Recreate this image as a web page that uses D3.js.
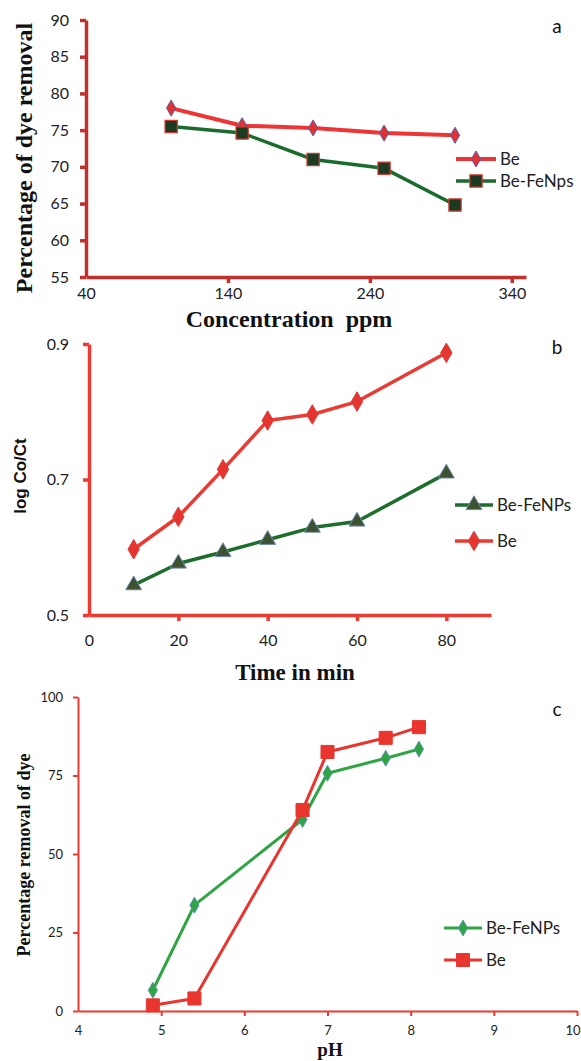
<!DOCTYPE html>
<html>
<head>
<meta charset="utf-8">
<script src="https://cdn.jsdelivr.net/npm/d3@7"></script>
<style>
  body { margin: 0; background: #fff; }
  svg { display: block; }
</style>
</head>
<body>
<div id="graph"></div>
<script>
// ---- panel a : concentration ----
const concPpm = [100, 150, 200, 250, 300];
const concBe = [78.0, 75.6, 75.3, 74.6, 74.3];
const concBeFe = [75.5, 74.6, 71.0, 69.8, 64.8];
const concXTicks = [40, 140, 240, 340];
const concYTicks = [55, 60, 65, 70, 75, 80, 85, 90];

// ---- panel b : time ----
const timeMin = [10, 20, 30, 40, 50, 60, 80];
const timeBeFe = [0.544, 0.576, 0.593, 0.611, 0.629, 0.638, 0.709];
const timeBe = [0.597, 0.645, 0.715, 0.787, 0.796, 0.815, 0.887];
const timeXTicks = [0, 20, 40, 60, 80];
const timeYTicks = [0.5, 0.7, 0.9];

// ---- panel c : pH ----
const phVals = [4.9, 5.4, 6.7, 7.0, 7.7, 8.1];
const phBeFe = [6.6, 33.7, 61.0, 75.7, 80.5, 83.4];
const phBe = [1.8, 4.0, 64.0, 82.5, 87.0, 90.4];
const phXTicks = [4, 5, 6, 7, 8, 9, 10];
const phYTicks = [0, 25, 50, 75, 100];

const W = 581, H = 1061;
const sans = "Lato, 'Open Sans', sans-serif";
const serif = "'Liberation Serif', 'DejaVu Serif', serif";

let svg = d3.select("#graph")
    .append("svg")
    .attr("width", W)
    .attr("height", H);

function marker(g, type, size, x, y, fill, stroke, sw) {
    g.append("path")
        .attr("d", d3.symbol().type(type).size(size)())
        .attr("transform", `translate(${x},${y})`)
        .attr("fill", fill)
        .attr("stroke", stroke)
        .attr("stroke-width", sw);
}

function drawPanel(p) {
    let g = svg.append("g");
    let x = d3.scaleLinear().domain(p.xDomain).range([p.left, p.right]);
    let y = d3.scaleLinear().domain(p.yDomain).range([p.bottom, p.top]);

    // axes
    let xa = g.append("g")
        .attr("transform", `translate(0,${p.bottom})`)
        .call(d3.axisBottom(x).tickValues(p.xTicks).tickSize(p.tick).tickSizeOuter(0)
            .tickPadding(p.xPad).tickFormat(d3.format("d")));
    let ya = g.append("g")
        .attr("transform", `translate(${p.left},0)`)
        .call(d3.axisLeft(y).tickValues(p.yTicks).tickSize(p.tick).tickSizeOuter(0)
            .tickPadding(p.yPad).tickFormat(p.yFormat));
    [xa, ya].forEach(a => {
        a.select(".domain").attr("stroke", p.axisColor).attr("stroke-width", p.axisWidth);
        a.selectAll(".tick line").attr("stroke", p.axisColor).attr("stroke-width", p.axisWidth);
        a.selectAll(".tick text").attr("fill", "#222").style("font-family", sans).style("font-size", p.tickFont + "px");
    });
    // x ticks at the very start coincide with the y axis
    xa.selectAll(".tick").filter(d => d === p.xDomain[0]).select("line").remove();
    // keep a label at the right page edge inside the picture
    xa.selectAll(".tick text").filter(d => x(d) > W - 8).attr("text-anchor", "end").attr("x", W - x(p.xDomain[1]) - 1);

    // series
    p.series.forEach(s => {
        let pts = p.xs.map((v, i) => [x(v), y(s.values[i])]);
        g.append("path")
            .attr("d", d3.line()(pts))
            .attr("fill", "none")
            .attr("stroke", s.color)
            .attr("stroke-width", s.width)
            .attr("stroke-linejoin", "round");
        pts.forEach(pt => marker(g, s.symbol, s.size, pt[0], pt[1], s.fill, s.stroke, s.sw));
    });

    // legend
    p.series.forEach((s, i) => {
        let ly = p.legendY + i * p.legendGap;
        g.append("line")
            .attr("x1", p.legendX).attr("x2", p.legendX + p.legendLen)
            .attr("y1", ly).attr("y2", ly)
            .attr("stroke", s.color).attr("stroke-width", s.width);
        marker(g, s.symbol, s.size, p.legendX + p.legendLen / 2, ly, s.fill, s.stroke, s.sw);
        g.append("text")
            .attr("x", p.legendX + p.legendLen + 4).attr("y", ly)
            .attr("dy", "0.35em")
            .style("font-family", sans).style("font-size", p.legendFont + "px")
            .attr("fill", "#222")
            .text(s.name);
    });

    // axis titles
    g.append("text")
        .attr("x", p.xTitleX).attr("y", p.xTitleY)
        .attr("text-anchor", "middle")
        .style("font-family", p.xTitleFamily).style("font-weight", "bold")
        .style("font-size", p.xTitleFont + "px")
        .style("white-space", "pre")
        .attr("fill", "#111")
        .text(p.xTitle);
    g.append("text")
        .attr("transform", `translate(${p.yTitleX},${p.yTitleY}) rotate(-90)`)
        .attr("text-anchor", "middle")
        .style("font-family", p.yTitleFamily).style("font-weight", "bold")
        .style("font-size", p.yTitleFont + "px")
        .attr("fill", "#111")
        .text(p.yTitle);

    // panel letter
    g.append("text")
        .attr("x", 557).attr("y", p.letterY)
        .attr("text-anchor", "middle")
        .style("font-family", sans).style("font-size", "19px")
        .attr("fill", "#111")
        .text(p.letter);
}

drawPanel({
    left: 86, right: 526, top: 20, bottom: 277,
    xDomain: [40, 350], yDomain: [55, 90],
    xTicks: concXTicks, yTicks: concYTicks, yFormat: d3.format("d"),
    tick: 6, xPad: 5, yPad: 11, tickFont: 16,
    axisColor: "#c0302c", axisWidth: 3.5,
    xs: concPpm,
    series: [
        {name: "Be", values: concBe, color: "#ee3535", width: 4, symbol: d3.symbolDiamond, size: 75, fill: "#e03232", stroke: "#5b5ea8", sw: 1},
        {name: "Be-FeNps", values: concBeFe, color: "#1b6a2e", width: 3.5, symbol: d3.symbolSquare, size: 150, fill: "#1c3a22", stroke: "#d23a30", sw: 1.2}
    ],
    legendX: 456, legendLen: 40, legendY: 159, legendGap: 22, legendFont: 17,
    xTitle: "Concentration  ppm", xTitleX: 289, xTitleY: 327, xTitleFont: 24, xTitleFamily: serif,
    yTitle: "Percentage of dye removal", yTitleX: 32, yTitleY: 158, yTitleFont: 24, yTitleFamily: serif,
    letter: "a", letterY: 33
});

drawPanel({
    left: 89, right: 491, top: 344, bottom: 615,
    xDomain: [0, 90], yDomain: [0.5, 0.9],
    xTicks: timeXTicks, yTicks: timeYTicks, yFormat: d3.format(".1f"),
    tick: 6, xPad: 14, yPad: 14, tickFont: 16,
    axisColor: "#ea3a31", axisWidth: 3.5,
    xs: timeMin,
    series: [
        {name: "Be-FeNPs", values: timeBeFe, color: "#1d6e2c", width: 3.5, symbol: d3.symbolTriangle, size: 110, fill: "#3c5230", stroke: "#7088b0", sw: 1},
        {name: "Be", values: timeBe, color: "#ea3a31", width: 3.5, symbol: d3.symbolDiamond, size: 110, fill: "#e43631", stroke: "#e43631", sw: 1}
    ],
    legendX: 455, legendLen: 38, legendY: 505, legendGap: 36, legendFont: 17,
    xTitle: "Time in min", xTitleX: 295, xTitleY: 680, xTitleFont: 23, xTitleFamily: serif,
    yTitle: "log Co/Ct", yTitleX: 26, yTitleY: 476, yTitleFont: 17, yTitleFamily: "'Liberation Sans', Arial, sans-serif",
    letter: "b", letterY: 354
});

drawPanel({
    left: 78, right: 577, top: 697, bottom: 1011,
    xDomain: [4, 10], yDomain: [0, 100],
    xTicks: phXTicks, yTicks: phYTicks, yFormat: d3.format("d"),
    tick: 5, xPad: 10, yPad: 10, tickFont: 13,
    axisColor: "#ea3a31", axisWidth: 2,
    xs: phVals,
    series: [
        {name: "Be-FeNPs", values: phBeFe, color: "#2ea443", width: 3, symbol: d3.symbolDiamond, size: 75, fill: "#2ea443", stroke: "#5d8cc0", sw: 0.8},
        {name: "Be", values: phBe, color: "#e8352e", width: 3, symbol: d3.symbolSquare, size: 170, fill: "#e8352e", stroke: "#e8352e", sw: 1}
    ],
    legendX: 444, legendLen: 38, legendY: 928, legendGap: 32, legendFont: 17,
    xTitle: "pH", xTitleX: 330, xTitleY: 1056, xTitleFont: 19, xTitleFamily: serif,
    yTitle: "Percentage removal of dye", yTitleX: 30, yTitleY: 855, yTitleFont: 18, yTitleFamily: serif,
    letter: "c", letterY: 716
});
</script>
</body>
</html>
